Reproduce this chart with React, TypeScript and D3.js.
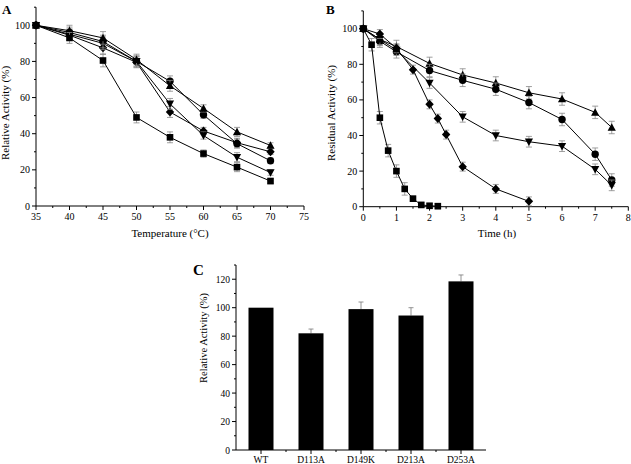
import React from "react";
import * as d3 from "d3";

const tempX = [35, 40, 45, 50, 55, 60, 65, 70];
const tempSquare = [100, 93, 80.5, 49, 38, 29, 21.5, 13.8];
const tempCircle = [100, 96, 91, 80, 69, 50.5, 34.5, 25];
const tempTriUp = [100, 97, 93, 81, 66.5, 54, 41, 33.5];
const tempTriDown = [100, 95, 90, 80, 56.5, 39, 27, 18.5];
const tempDiamond = [100, 94.5, 87.5, 79.5, 52, 41.5, 35, 30];
const tempErr = [0, 3, 3.5, 3, 3, 2, 2.5, 1.5];

const timeSquareX = [0, 0.25, 0.5, 0.75, 1, 1.25, 1.5, 1.75, 2, 2.25];
const timeSquare = [100, 91, 50, 31.5, 20, 10, 4.5, 1, 0.5, 0.3];
const timeDiamondX = [0, 0.5, 1, 1.5, 2, 2.25, 2.5, 3, 4, 5];
const timeDiamond = [100, 97, 89, 77, 57.5, 49.5, 40.5, 22.5, 10, 3];
const timeX = [0, 0.5, 1, 2, 3, 4, 5, 6, 7, 7.5];
const timeTriDown = [100, 94, 88, 69.5, 50.5, 40, 36.5, 34, 21, 12];
const timeCircle = [100, 93, 87, 76.5, 71, 66, 58.5, 49, 29.5, 15];
const timeTriUp = [100, 94, 90, 80.5, 74, 69.5, 64, 60.5, 53, 44.5];

const mutants = ["WT", "D113A", "D149K", "D213A", "D253A"];
const mutantActivity = [100, 82, 99, 94.5, 118.5];
const mutantErr = [0, 3, 5, 5.5, 4.5];

const FONT = "Liberation Serif, Times New Roman, serif";

type Shape = "square" | "circle" | "triUp" | "triDown" | "diamond";

function Marker({ shape, x, y }: { shape: Shape; x: number; y: number }) {
  const s = 3.3;
  if (shape === "square") return <rect x={x - s} y={y - s} width={2 * s} height={2 * s} fill="#000" />;
  if (shape === "circle") return <circle cx={x} cy={y} r={s + 0.4} fill="#000" />;
  if (shape === "triUp")
    return <path d={`M${x},${y - s - 0.9}L${x + s + 0.8},${y + s}L${x - s - 0.8},${y + s}Z`} fill="#000" />;
  if (shape === "triDown")
    return <path d={`M${x},${y + s + 0.9}L${x + s + 0.8},${y - s}L${x - s - 0.8},${y - s}Z`} fill="#000" />;
  return <path d={`M${x},${y - s - 1.2}L${x + s + 0.9},${y}L${x},${y + s + 1.2}L${x - s - 0.9},${y}Z`} fill="#000" />;
}

function Axes({
  x, y, xTicks, xMinor, yTicks, yMinor,
}: {
  x: d3.ScaleLinear<number, number>; y: d3.ScaleLinear<number, number>;
  xTicks: number[]; xMinor: number[]; yTicks: number[]; yMinor: number[];
}) {
  const [x0, x1] = x.range();
  const [y0, y1] = y.range();
  return (
    <g stroke="#000" strokeWidth={1}>
      <line x1={x0} x2={x1} y1={y0} y2={y0} />
      <line x1={x0} x2={x0} y1={y0} y2={y1} />
      {xTicks.map((t) => (
        <g key={"xt" + t}>
          <line x1={x(t)} x2={x(t)} y1={y0} y2={y0 + 4} />
          <text x={x(t)} y={y0 + 14} textAnchor="middle" stroke="none" fill="#000" fontSize={10} fontFamily={FONT}>
            {t}
          </text>
        </g>
      ))}
      {xMinor.map((t) => (
        <line key={"xm" + t} x1={x(t)} x2={x(t)} y1={y0} y2={y0 + 2} />
      ))}
      {yTicks.map((t) => (
        <g key={"yt" + t}>
          <line x1={x0 - 4} x2={x0} y1={y(t)} y2={y(t)} />
          <text x={x0 - 6} y={y(t) + 3.5} textAnchor="end" stroke="none" fill="#000" fontSize={10} fontFamily={FONT}>
            {t}
          </text>
        </g>
      ))}
      {yMinor.map((t) => (
        <line key={"ym" + t} x1={x0 - 2} x2={x0} y1={y(t)} y2={y(t)} />
      ))}
    </g>
  );
}

function Series({
  xs, ys, err, shape, x, y,
}: {
  xs: number[]; ys: number[]; err: number[]; shape: Shape;
  x: d3.ScaleLinear<number, number>; y: d3.ScaleLinear<number, number>;
}) {
  const pts = xs.map((v, i) => [v, ys[i]] as [number, number]);
  const line = d3.line<[number, number]>().x((d) => x(d[0])).y((d) => y(d[1]));
  return (
    <g>
      <g stroke="#888" strokeWidth={0.8}>
        {pts.map((p, i) =>
          err[i] > 0 ? (
            <g key={i}>
              <line x1={x(p[0])} x2={x(p[0])} y1={y(p[1] - err[i])} y2={y(p[1] + err[i])} />
              <line x1={x(p[0]) - 3} x2={x(p[0]) + 3} y1={y(p[1] - err[i])} y2={y(p[1] - err[i])} />
              <line x1={x(p[0]) - 3} x2={x(p[0]) + 3} y1={y(p[1] + err[i])} y2={y(p[1] + err[i])} />
            </g>
          ) : null
        )}
      </g>
      <path d={line(pts) || ""} fill="none" stroke="#000" strokeWidth={1} />
      {pts.map((p, i) => (
        <Marker key={i} shape={shape} x={x(p[0])} y={y(p[1])} />
      ))}
    </g>
  );
}

const range = (a: number, b: number, s: number) => d3.range(a, b + s / 2, s);

export default function App() {
  const xA = d3.scaleLinear().domain([35, 75]).range([36, 304]);
  const yA = d3.scaleLinear().domain([0, 110]).range([206, 7.2]);
  const xB = d3.scaleLinear().domain([0, 8]).range([363.3, 628.3]);
  const yB = d3.scaleLinear().domain([0, 110]).range([206.7, 10.9]);
  const xC = d3.scaleBand<string>().domain(mutants).range([236, 486]).paddingInner(0.5).paddingOuter(0.25);
  const yC = d3.scaleLinear().domain([0, 130]).range([450, 265]);

  const errB1 = timeSquare.map((v, i) => (i === 0 ? 0 : i < 6 ? 3.5 : 1.5));
  const errB2 = timeDiamond.map((v, i) => (i === 0 ? 0 : 2.5));
  const errB3 = timeTriDown.map((v, i) => (i === 0 ? 0 : 3));
  const errB4 = timeCircle.map((v, i) => (i === 0 ? 0 : 3.5));
  const errB5 = timeTriUp.map((v, i) => (i === 0 ? 0 : 3.5));

  return (
    <svg width={631} height={464} style={{ position: "absolute", left: 0, top: 0, background: "#fff" }}>
      <text x={2} y={14} fontFamily={FONT} fontWeight="bold" fontSize={13}>A</text>
      <Axes x={xA} y={yA} xTicks={range(35, 75, 5)} xMinor={range(37.5, 72.5, 5)} yTicks={range(0, 100, 20)} yMinor={range(10, 110, 20)} />
      <text transform={`translate(9,113) rotate(-90)`} textAnchor="middle" fontFamily={FONT} fontSize={11}>Relative Activity (%)</text>
      <text x={170} y={237} textAnchor="middle" fontFamily={FONT} fontSize={11}>Temperature (°C)</text>
      <Series xs={tempX} ys={tempDiamond} err={tempErr} shape="diamond" x={xA} y={yA} />
      <Series xs={tempX} ys={tempTriDown} err={tempErr} shape="triDown" x={xA} y={yA} />
      <Series xs={tempX} ys={tempCircle} err={tempErr} shape="circle" x={xA} y={yA} />
      <Series xs={tempX} ys={tempTriUp} err={tempErr} shape="triUp" x={xA} y={yA} />
      <Series xs={tempX} ys={tempSquare} err={tempErr} shape="square" x={xA} y={yA} />

      <text x={326} y={14} fontFamily={FONT} fontWeight="bold" fontSize={13}>B</text>
      <Axes x={xB} y={yB} xTicks={range(0, 8, 1)} xMinor={range(0.5, 7.5, 1)} yTicks={range(0, 100, 20)} yMinor={range(10, 110, 20)} />
      <text transform={`translate(335,113) rotate(-90)`} textAnchor="middle" fontFamily={FONT} fontSize={11}>Residual Activity (%)</text>
      <text x={497} y={237} textAnchor="middle" fontFamily={FONT} fontSize={11}>Time (h)</text>
      <Series xs={timeX} ys={timeTriUp} err={errB5} shape="triUp" x={xB} y={yB} />
      <Series xs={timeX} ys={timeCircle} err={errB4} shape="circle" x={xB} y={yB} />
      <Series xs={timeX} ys={timeTriDown} err={errB3} shape="triDown" x={xB} y={yB} />
      <Series xs={timeDiamondX} ys={timeDiamond} err={errB2} shape="diamond" x={xB} y={yB} />
      <Series xs={timeSquareX} ys={timeSquare} err={errB1} shape="square" x={xB} y={yB} />

      <text x={193} y={275} fontFamily={FONT} fontWeight="bold" fontSize={15}>C</text>
      <g stroke="#000" strokeWidth={1}>
        <line x1={236} x2={486} y1={450} y2={450} />
        <line x1={236} x2={236} y1={450} y2={265} />
        {range(0, 120, 20).map((t) => (
          <g key={"c" + t}>
            <line x1={232} x2={236} y1={yC(t)} y2={yC(t)} />
            <text x={230} y={yC(t) + 3.5} textAnchor="end" stroke="none" fill="#000" fontSize={9.5} fontFamily={FONT}>{t}</text>
          </g>
        ))}
        {range(10, 130, 20).map((t) => (
          <line key={"cm" + t} x1={234} x2={236} y1={yC(t)} y2={yC(t)} />
        ))}
        {mutants.map((m) => (
          <line key={"cx" + m} x1={(xC(m) as number) + xC.bandwidth() / 2} x2={(xC(m) as number) + xC.bandwidth() / 2} y1={450} y2={454} />
        ))}
        {mutants.slice(0, 4).map((m) => (
          <line key={"cxm" + m} x1={(xC(m) as number) + xC.bandwidth() / 2 + xC.step() / 2} x2={(xC(m) as number) + xC.bandwidth() / 2 + xC.step() / 2} y1={450} y2={452} />
        ))}
      </g>
      {mutants.map((m, i) => {
        const bx = xC(m) as number;
        const cx = bx + xC.bandwidth() / 2;
        return (
          <g key={m}>
            {mutantErr[i] > 0 && (
              <g stroke="#777" strokeWidth={0.8}>
                <line x1={cx} x2={cx} y1={yC(mutantActivity[i])} y2={yC(mutantActivity[i] + mutantErr[i])} />
                <line x1={cx - 2.5} x2={cx + 2.5} y1={yC(mutantActivity[i] + mutantErr[i])} y2={yC(mutantActivity[i] + mutantErr[i])} />
              </g>
            )}
            <rect x={bx} y={yC(mutantActivity[i])} width={xC.bandwidth()} height={450 - yC(mutantActivity[i])} fill="#000" />
            <text x={cx} y={463} textAnchor="middle" fontFamily={FONT} fontSize={9.5}>{m}</text>
          </g>
        );
      })}
      <text transform={`translate(207,338) rotate(-90)`} textAnchor="middle" fontFamily={FONT} fontSize={10.5}>Relative Activity (%)</text>
    </svg>
  );
}
